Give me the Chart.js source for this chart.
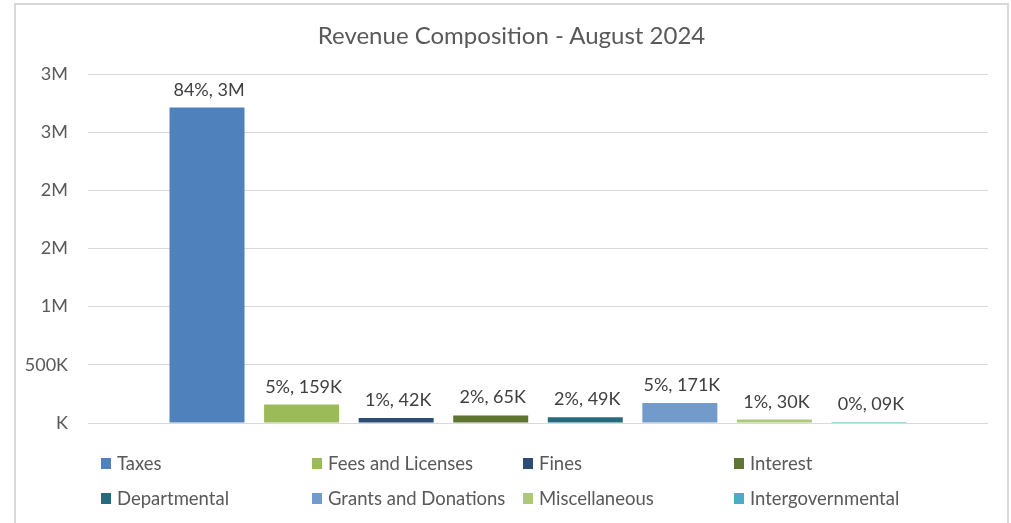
<!DOCTYPE html>
<html>
<head>
<meta charset="utf-8">
<script src="https://cdn.jsdelivr.net/npm/chart.js@4/dist/chart.umd.min.js"></script>
<style>
  html, body { margin: 0; padding: 0; background: #fff; }
  #wrap { position: relative; width: 1011px; height: 523px; overflow: hidden; font-family: Lato, "Open Sans", sans-serif; }
  #frame { position: absolute; left: 14px; top: 3px; width: 991px; height: 560px; border: 2px solid #d9d9d9; box-sizing: content-box; }
  #title { position: absolute; left: 0; top: 20px; width: 1023px; text-align: center; font-size: 24px; color: #595959; }
  canvas { position: absolute; left: 0; top: 0; }
  #legend { position: absolute; left: 101px; top: 450px; display: grid; grid-template-columns: 211px 211px 211px 211px; grid-auto-rows: 35px; font-size: 18.5px; color: #595959; }
  .li { display: flex; align-items: center; height: 26px; white-space: nowrap; }
  .sw { width: 10px; height: 11px; margin-right: 6px; flex: none; }
</style>
</head>
<body>
<div id="wrap">
  <div id="frame"></div>
  <canvas id="c" width="1011" height="523"></canvas>
  <div id="title">Revenue Composition - August 2024</div>
  <div id="legend"></div>
</div>
<script>
const categories = ["Taxes", "Fees and Licenses", "Fines", "Interest", "Departmental", "Grants and Donations", "Miscellaneous", "Intergovernmental"];
const values = [2712000, 159000, 42000, 65000, 49000, 171000, 30000, 9000];
const dataLabels = ["84%, 3M", "5%, 159K", "1%, 42K", "2%, 65K", "2%, 49K", "5%, 171K", "1%, 30K", "0%, 09K"];
const colors = ["#4F81BD", "#9BBB59", "#2C4D75", "#5F7530", "#276A7C", "#729ACA", "#AFC97A", "#4BACC6"];
const yTickLabels = ["K", "500K", "1M", "2M", "2M", "3M", "3M"];

const labelPlugin = {
  id: 'barLabels',
  afterDatasetsDraw(chart) {
    const ctx = chart.ctx;
    ctx.save();
    ctx.font = '18px Lato, "Open Sans", sans-serif';
    ctx.fillStyle = '#404040';
    ctx.textAlign = 'center';
    ctx.textBaseline = 'alphabetic';
    chart.data.datasets.forEach((ds, i) => {
      const bar = chart.getDatasetMeta(i).data[0];
      ctx.fillText(dataLabels[i], bar.x + 2, bar.y - 12);
    });
    ctx.restore();
  }
};

new Chart(document.getElementById('c'), {
  type: 'bar',
  data: {
    labels: ["August 2024"],
    datasets: categories.map((name, i) => ({
      label: name,
      data: [values[i]],
      backgroundColor: colors[i],
      borderWidth: 0,
      categoryPercentage: 0.8406,
      barPercentage: 0.793
    }))
  },
  options: {
    responsive: false,
    animation: false,
    layout: { padding: { top: 74, bottom: 100, right: 23, left: 0 } },
    plugins: { legend: { display: false }, title: { display: false }, tooltip: { enabled: false } },
    scales: {
      x: { display: false },
      y: {
        min: 0, max: 3000000,
        afterFit(scale) { scale.width = 88; },
        border: { display: false },
        grid: { color: '#d9d9d9', lineWidth: 1, drawTicks: false },
        ticks: {
          stepSize: 500000,
          padding: 20,
          color: '#595959',
          font: { family: 'Lato, "Open Sans", sans-serif', size: 18 },
          callback: (v, i) => yTickLabels[i]
        }
      }
    }
  },
  plugins: [labelPlugin]
});

const leg = document.getElementById('legend');
categories.forEach((name, i) => {
  const d = document.createElement('div');
  d.className = 'li';
  const s = document.createElement('span');
  s.className = 'sw';
  s.style.background = colors[i];
  const t = document.createElement('span');
  t.textContent = name;
  d.appendChild(s); d.appendChild(t);
  leg.appendChild(d);
});
</script>
</body>
</html>
